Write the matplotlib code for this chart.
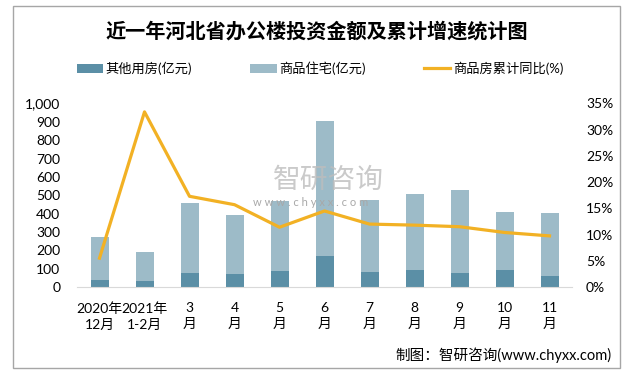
import matplotlib.pyplot as plt
from matplotlib.patches import Rectangle
from matplotlib.ticker import FuncFormatter
import numpy as np

plt.rcParams['font.family'] = ['Lato', 'Noto Sans CJK SC', 'DejaVu Sans']

months = ["2020年\n12月", "2021年\n1-2月", "3\n月", "4\n月", "5\n月", "6\n月",
          "7\n月", "8\n月", "9\n月", "10\n月", "11\n月"]
other_use = [38, 33, 76, 71, 87, 169, 82, 93, 76, 93, 60]          # 其他用房(亿元)
total_inv = [273, 191, 459, 393, 470, 902, 475, 508, 530, 410, 404]
residential = [t - o for t, o in zip(total_inv, other_use)]          # 商品住宅(亿元)
growth = [5.5, 33.4, 17.3, 15.7, 11.4, 14.5, 12.0, 11.8, 11.5, 10.4, 9.75]  # 商品房累计同比(%)

c_dark = "#5b8fa6"
c_light = "#9dbbc8"
c_line = "#f2b124"

fig = plt.figure(figsize=(6.24, 3.76), dpi=100)
fig.patches.append(Rectangle((13 / 624, 8 / 376), 607 / 624, 362 / 376,
                             transform=fig.transFigure, fill=False,
                             edgecolor="#a6a6a6", lw=1))

ax = fig.add_axes([77 / 624, 89 / 376, 495 / 624, 183.5 / 376])
x = np.arange(len(months))
w = 0.4
ax.bar(x, other_use, w, color=c_dark, label="其他用房(亿元)", zorder=2)
ax.bar(x, residential, w, bottom=other_use, color=c_light, label="商品住宅(亿元)", zorder=2)
ax.set_xlim(-0.5, len(months) - 0.5)
ax.set_ylim(0, 1000)
ax.set_yticks(np.arange(0, 1001, 100))
ax.yaxis.set_major_formatter(FuncFormatter(lambda v, p: f"{int(v):,}"))
ax.set_xticks(x)
ax.set_xticklabels(months, linespacing=1.4)
ax.tick_params(axis="y", length=0, pad=12, labelsize=10)
ax.tick_params(axis="x", length=0, pad=11, labelsize=10)
for s in ["top", "right", "left"]:
    ax.spines[s].set_visible(False)
ax.spines["bottom"].set_color("#d9d9d9")

ax2 = ax.twinx()
ax2.plot(x, growth, color=c_line, lw=2.3, label="商品房累计同比(%)", zorder=3)
ax2.set_ylim(0, 35)
ax2.set_yticks(np.arange(0, 36, 5))
ax2.yaxis.set_major_formatter(FuncFormatter(lambda v, p: f"{int(v)}%"))
ax2.tick_params(axis="y", length=0, pad=10, labelsize=10)
for s in ["top", "right", "left", "bottom"]:
    ax2.spines[s].set_visible(False)

# watermark
fig.text(328 / 624, 1 - 180 / 376, "智研咨询", fontsize=20, color="#bdbdbd",
         ha="center", va="center", alpha=0.8, zorder=5)
fig.text(311 / 624, 1 - 202 / 376, "w w w . c h y x x . c o m", fontsize=8,
         color="#a8a8a8", ha="center", va="center", zorder=6)

fig.text(0.508, 1 - 31 / 376, "近一年河北省办公楼投资金额及累计增速统计图",
         fontsize=14.5, fontweight="bold", ha="center", va="center")

h1, l1 = ax.get_legend_handles_labels()
h2, l2 = ax2.get_legend_handles_labels()
fig.legend(h1 + h2, l1 + l2, loc="center", bbox_to_anchor=(0.513, 1 - 68 / 376),
           ncol=3, frameon=False, fontsize=9.5, columnspacing=4.4,
           handlelength=2.0, handletextpad=0.2)

fig.text(612 / 624, 1 - 355 / 376, "制图：智研咨询(www.chyxx.com)", fontsize=10.5,
         ha="right", va="center")

fig.savefig("out.png", dpi=100)
